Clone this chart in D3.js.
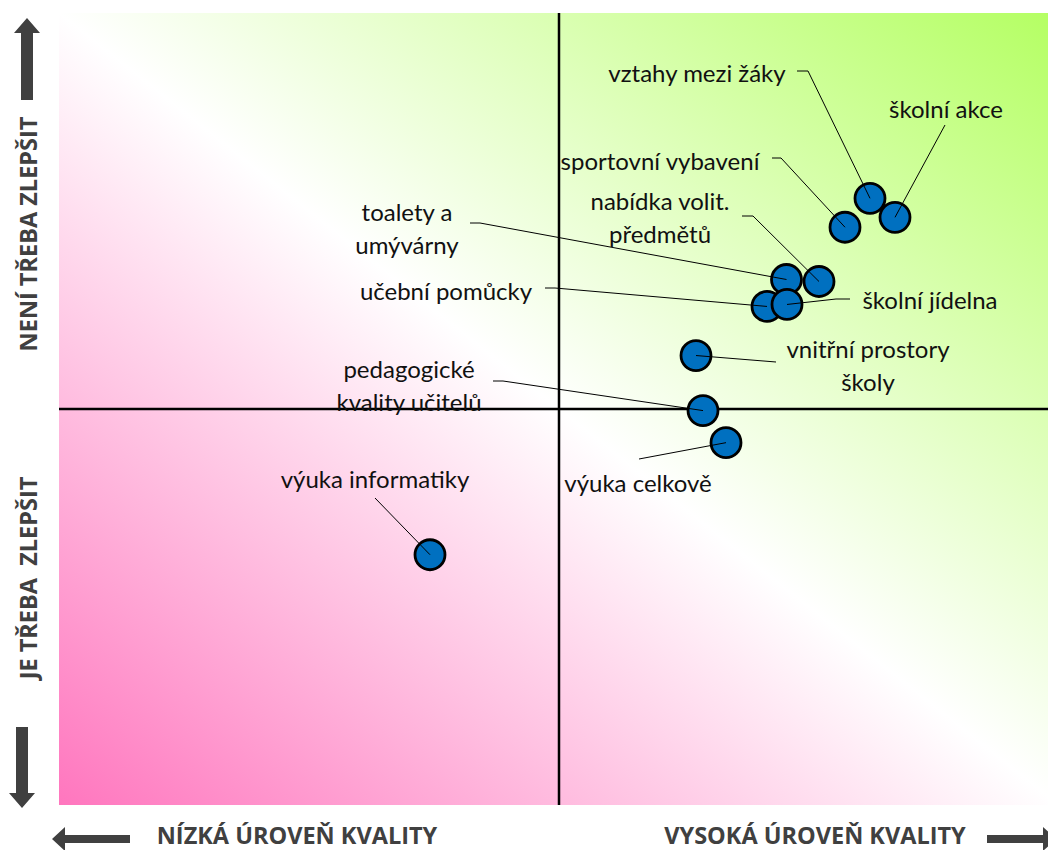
<!DOCTYPE html>
<html>
<head>
<meta charset="utf-8">
<script src="https://cdn.jsdelivr.net/npm/d3@7"></script>
<style>
  body { margin: 0; background: #fff; }
  .lbl { font-family: Lato, "Open Sans", sans-serif; font-size: 24px; fill: #111; }
  .ax { font-family: "Open Sans", sans-serif; font-weight: bold; font-size: 23.5px; fill: #404040; }
</style>
</head>
<body>
<div id="chart"></div>
<script>
// Oblasti hodnocení školy
let areas = ['vztahy mezi žáky', 'školní akce', 'sportovní vybavení', 'toalety a umývárny',
    'nabídka volit. předmětů', 'učební pomůcky', 'školní jídelna', 'vnitřní prostory školy',
    'pedagogické kvality učitelů', 'výuka celkově', 'výuka informatiky'];

// kvalita (x) a spokojenost (y), rozsah -1..1
let quality = [0.622, 0.672, 0.572, 0.455, 0.52, 0.416, 0.456, 0.274, 0.288, 0.334, -0.258];
let satisfaction = [0.532, 0.484, 0.459, 0.327, 0.322, 0.259, 0.264, 0.135, -0.004, -0.085, -0.368];

// rozložení popisků: řádky textu, střed textu, bod ukotvení odkazové čáry
let labelLines = [['vztahy mezi žáky'], ['školní akce'], ['sportovní vybavení'], ['toalety a', 'umývárny'],
    ['nabídka volit.', 'předmětů'], ['učební pomůcky'], ['školní jídelna'], ['vnitřní prostory', 'školy'],
    ['pedagogické', 'kvality učitelů'], ['výuka celkově'], ['výuka informatiky']];
let labelAt = [[697, 72], [946, 108], [660, 160], [407, 211], [660, 200], [446, 290], [930, 299],
    [868, 348], [409, 368], [638, 482], [375, 478]];
let leaderFrom = [[797, 71, 808, 71], [945, 125, 945, 125], [772, 158, 781, 158], [470, 223, 480, 223],
    [742, 216, 753, 216], [545, 288, 555, 288], [850, 299, 836, 299], [776, 362, 776, 362],
    [493, 381, 503, 381], [639, 459, 639, 459], [375, 498, 375, 498]];

let width = 1048, height = 850;

let svg = d3.select('#chart').append('svg').attr('width', width).attr('height', height);

let x = d3.scaleLinear().domain([-1, 1]).range([59, 1059]);
let y = d3.scaleLinear().domain([-1, 1]).range([805, 13]);

// Pozadí - diagonální přechod růžová -> bílá -> zelená (rohy vlevo nahoře a vpravo dole jsou bílé)
let grad = svg.append('defs').append('linearGradient')
    .attr('id', 'bg')
    .attr('x1', 0).attr('y1', 1)
    .attr('x2', 1).attr('y2', 0);
grad.append('stop').attr('offset', 0).attr('stop-color', '#ff76be');
grad.append('stop').attr('offset', 0.5).attr('stop-color', '#ffffff');
grad.append('stop').attr('offset', 1).attr('stop-color', '#b4ff62');

svg.append('rect')
    .attr('x', x(-1)).attr('y', y(1))
    .attr('width', x(1) - x(-1)).attr('height', y(-1) - y(1))
    .attr('fill', 'url(#bg)');

// Osy kvadrantů
svg.append('line')
    .attr('x1', x(0)).attr('x2', x(0)).attr('y1', y(1)).attr('y2', y(-1))
    .attr('stroke', '#000').attr('stroke-width', 2.5);
svg.append('line')
    .attr('x1', x(-1)).attr('x2', x(1)).attr('y1', y(0)).attr('y2', y(0))
    .attr('stroke', '#000').attr('stroke-width', 2.5);

// Body
let idx = d3.range(areas.length);

svg.selectAll('.dot')
    .data(idx)
    .enter()
    .append('circle')
    .attr('class', 'dot')
    .attr('cx', i => x(quality[i]))
    .attr('cy', i => y(satisfaction[i]))
    .attr('r', 15)
    .attr('fill', '#0070c0')
    .attr('stroke', '#000')
    .attr('stroke-width', 2.8);

// Odkazové čáry
svg.selectAll('.leader')
    .data(idx)
    .enter()
    .append('polyline')
    .attr('class', 'leader')
    .attr('fill', 'none')
    .attr('stroke', '#000')
    .attr('stroke-width', 1)
    .attr('points', i => {
        let l = leaderFrom[i];
        return `${l[0]},${l[1]} ${l[2]},${l[3]} ${x(quality[i])},${y(satisfaction[i])}`;
    });

// Popisky
let labels = svg.selectAll('.lbl')
    .data(idx)
    .enter()
    .append('text')
    .attr('class', 'lbl')
    .attr('text-anchor', 'middle')
    .attr('x', i => labelAt[i][0])
    .attr('y', i => labelAt[i][1]);

labels.each(function(i) {
    let t = d3.select(this);
    labelLines[i].forEach((line, k) => {
        t.append('tspan')
            .attr('x', labelAt[i][0])
            .attr('y', labelAt[i][1] + k * 33)
            .attr('dominant-baseline', 'central')
            .text(line);
    });
});

// Šipky a popisy os
let arrowColor = '#404040';
function arrow(x1, y1, x2, y2, shaft, head, headLen) {
    let dx = x2 - x1, dy = y2 - y1;
    let len = Math.hypot(dx, dy);
    let ux = dx / len, uy = dy / len, px = -uy, py = ux;
    let bx = x2 - ux * headLen, by = y2 - uy * headLen;
    let pts = [
        [x1 + px * shaft, y1 + py * shaft], [bx + px * shaft, by + py * shaft],
        [bx + px * head, by + py * head], [x2, y2],
        [bx - px * head, by - py * head], [bx - px * shaft, by - py * shaft],
        [x1 - px * shaft, y1 - py * shaft]
    ];
    svg.append('polygon').attr('points', pts.map(p => p.join(',')).join(' ')).attr('fill', arrowColor);
}

arrow(27, 100, 27, 18, 6, 13, 15);
arrow(22, 727, 22, 808, 6, 13, 15);
arrow(130, 839, 52, 839, 4, 12, 13);
arrow(987, 839, 1056, 839, 4, 12, 13);

svg.append('text').attr('class', 'ax')
    .attr('x', 297).attr('y', 844).attr('text-anchor', 'middle')
    .text('NÍZKÁ ÚROVEŇ KVALITY');
svg.append('text').attr('class', 'ax')
    .attr('x', 815).attr('y', 844).attr('text-anchor', 'middle')
    .text('VYSOKÁ ÚROVEŇ KVALITY');
svg.append('text').attr('class', 'ax')
    .attr('transform', 'translate(28,234) rotate(-90)')
    .attr('dominant-baseline', 'central').attr('text-anchor', 'middle')
    .text('NENÍ TŘEBA ZLEPŠIT');
svg.append('text').attr('class', 'ax')
    .attr('transform', 'translate(28,578) rotate(-90)')
    .attr('dominant-baseline', 'central').attr('text-anchor', 'middle')
    .style('white-space', 'pre')
    .text('JE TŘEBA  ZLEPŠIT');
</script>
</body>
</html>
